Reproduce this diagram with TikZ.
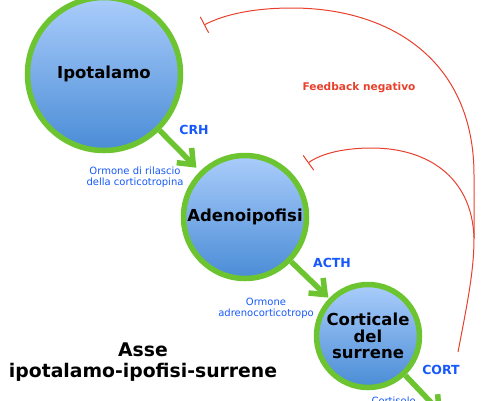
\documentclass[tikz,border=0pt]{standalone}
\usepackage{fontspec}
\setmainfont{DejaVu Sans}
\usetikzlibrary{arrows.meta}
\definecolor{ringgreen}{RGB}{108,196,48}
\definecolor{balltop}{RGB}{170,205,251}
\definecolor{ballbottom}{RGB}{74,140,214}
\definecolor{hormoneblue}{RGB}{22,88,250}
\definecolor{feedbackred}{RGB}{232,64,44}

\begin{document}
\begin{tikzpicture}[x=1pt, y=-1pt,
    gland/.style={circle, draw=ringgreen, line width=5.5pt, top color=balltop, bottom color=ballbottom,
        align=center, inner sep=0pt, font=\fontsize{16.5}{16.5}\selectfont\bfseries},
    secretion/.style={draw=ringgreen, line width=5.5pt, -{Straight Barb[length=13pt, width=21pt]}},
    hormone/.style={text=hormoneblue, font=\fontsize{12.5}{14}\selectfont\bfseries},
    hormonename/.style={text=hormoneblue, align=center, font=\fontsize{10}{11}\selectfont},
    feedback/.style={draw=feedbackred, line width=1pt, -{Bar[width=18pt]}}
  ]
    \useasboundingbox (0,0) rectangle (495,400);
    \clip (0,0) rectangle (495,400);

    % glands
    \node[gland, minimum size=153pt] (ipotalamo) at (104,74) {Ipotalamo};
    \node[gland, minimum size=123pt] (adenoipofisi) at (245,217) {Adenoipofisi};
    \node[gland, minimum size=103pt] (corticale) at (368,336) {Corticale\\del\\surrene};

    % hormones
    \coordinate (cortisolout) at (442,414);
    \draw[secretion, shorten >=5pt] (ipotalamo) -- (adenoipofisi);
    \draw[secretion, shorten >=1pt] (adenoipofisi) -- (corticale);
    \draw[secretion] (corticale) -- (cortisolout);

    \node[hormone] (crh) at (194,130) {CRH};
    \node[hormonename] (crhname) at (135,177) {Ormone di rilascio\\della corticotropina};
    \node[hormone] (acth) at (332,263) {ACTH};
    \node[hormonename] (acthname) at (266,308) {Ormone\\adrenocorticotropo};
    \node[hormone] (cort) at (441,370) {CORT};
    \node[hormonename, anchor=base west] (cortname) at (368,404) {Cortisolo};

    % feedback
    \coordinate (fbstart) at (458,352);
    \coordinate (fbjoin) at (474,238);
    \coordinate (fbipo) at (204,25);
    \coordinate (fbadeno) at (308,163);
    \draw[feedbackred, line width=1pt] (fbstart) .. controls (468,300) and (474,270) .. (fbjoin);
    \draw[feedback] (fbjoin) -- (474,175) .. controls (474,60) and (390,8) .. (292,8)
        .. controls (255,8) and (225,14) .. (fbipo);
    \draw[feedback] (fbjoin) .. controls (472,175) and (425,148) .. (372,148)
        .. controls (345,148) and (322,153) .. (fbadeno);
    \node[text=feedbackred, font=\fontsize{10.6}{12}\selectfont\bfseries] (fblabel) at (359,88) {Feedback negativo};

    \node[align=center, font=\fontsize{18.8}{21}\selectfont\bfseries] (title) at (143,362) {Asse\\ipotalamo-ipofisi-surrene};
\end{tikzpicture}
\end{document}
